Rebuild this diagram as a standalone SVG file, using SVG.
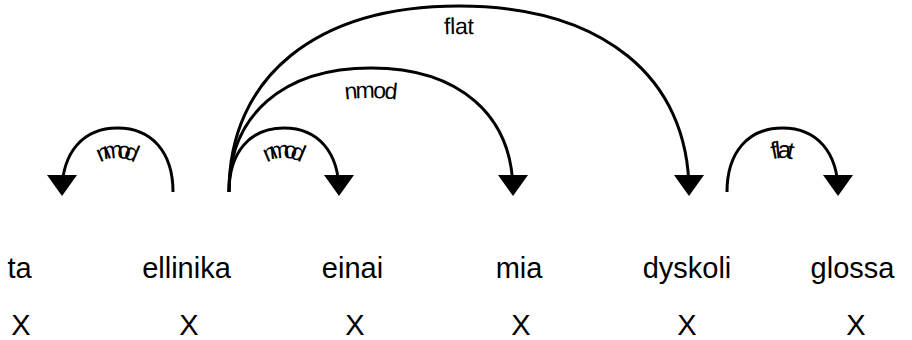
<svg xmlns="http://www.w3.org/2000/svg" xmlns:xlink="http://www.w3.org/1999/xlink" width="912" height="340" viewBox="0 0 912 340">
<style>
.word{font-family:"Liberation Sans",Arial,sans-serif;font-size:29px;fill:#000;text-anchor:middle}
.arc{fill:none;stroke:#000;stroke-width:3}
.head{fill:#000}
.lbl{font-family:"Liberation Sans",Arial,sans-serif;font-size:23px;fill:#000}
.sm{font-size:24px}
</style>
<rect width="912" height="340" fill="#fff"/>
<g id="w0"><text class="word" x="19.5" y="278">ta</text><text class="word" x="21" y="335">X</text></g>
<g id="w1"><text class="word" x="186.5" y="278">ellinika</text><text class="word" x="189" y="335">X</text></g>
<g id="w2"><text class="word" x="352.5" y="278">einai</text><text class="word" x="355" y="335">X</text></g>
<g id="w3"><text class="word" x="519" y="278">mia</text><text class="word" x="521" y="335">X</text></g>
<g id="w4"><text class="word" x="687" y="278">dyskoli</text><text class="word" x="687" y="335">X</text></g>
<g id="w5"><text class="word" x="852.5" y="278">glossa</text><text class="word" x="856" y="335">X</text></g>
<g id="connectors">
<path id="a1" class="arc" d="M62,192 C62,152.3 83.1,128 117.5,128 C151.9,128 173,152.3 173,192"/>
<path id="a2" class="arc" d="M229,192 C229,152.3 249.9,128 284,128 C318.1,128 339,152.3 339,192"/>
<path id="a3" class="arc" d="M229,192 C229,115.1 283,68 371,68 C459,68 513,115.1 513,192"/>
<path id="a4" class="arc" d="M229,192 C229,76.7 316.4,6 459,6 C601.6,6 689,76.7 689,192"/>
<path id="a5" class="arc" d="M727,192 C727,152.3 748.1,128 782.5,128 C816.9,128 838,152.3 838,192"/>
<polygon class="head" points="62,196 47,175 77,175"/>
<polygon class="head" points="339,196 324,175 354,175"/>
<polygon class="head" points="513,196 498,175 528,175"/>
<polygon class="head" points="689,196 674,175 704,175"/>
<polygon class="head" points="838,196 823,175 853,175"/>
<text class="lbl sm" dy="30"><textPath xlink:href="#a1" href="#a1" startOffset="50%" text-anchor="middle">nmod</textPath></text>
<text class="lbl sm" dy="30"><textPath xlink:href="#a2" href="#a2" startOffset="50%" text-anchor="middle">nmod</textPath></text>
<text class="lbl" dy="30"><textPath xlink:href="#a3" href="#a3" startOffset="50%" text-anchor="middle">nmod</textPath></text>
<text class="lbl" dy="28"><textPath xlink:href="#a4" href="#a4" startOffset="50%" text-anchor="middle">flat</textPath></text>
<text class="lbl sm" dy="30"><textPath xlink:href="#a5" href="#a5" startOffset="50%" text-anchor="middle">flat</textPath></text>
</g>
</svg>
